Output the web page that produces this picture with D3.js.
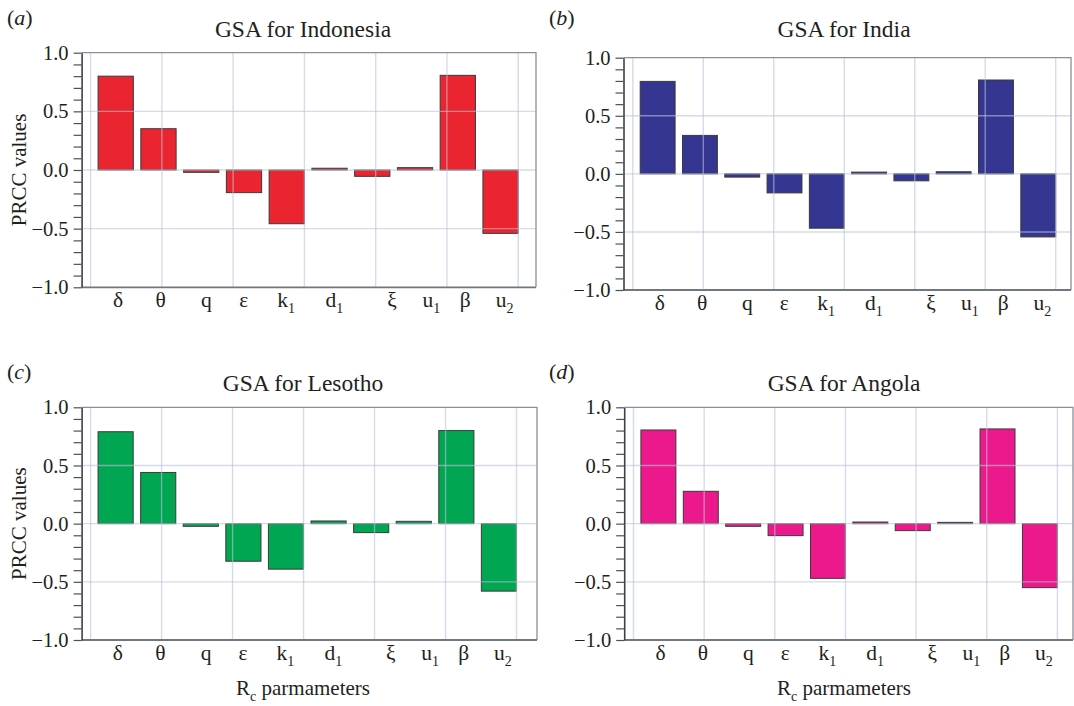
<!DOCTYPE html>
<html>
<head>
<meta charset="utf-8">
<script src="https://cdn.jsdelivr.net/npm/d3@7"></script>
<style>
  body { margin: 0; background: #fff; }
  svg text { font-family: 'Liberation Serif', 'Tinos', 'Times New Roman', 'DejaVu Serif', serif; fill: #231f20; }
</style>
</head>
<body>
<svg id="fig" width="1074" height="706"></svg>
<script>
// parameters on the x axis (base glyph + subscript)
const params = ['δ', 'θ', 'q', 'ε', 'k', 'd', 'ξ', 'u', 'β', 'u'];
const paramSubs = ['', '', '', '', '1', '1', '', '1', '', '2'];
// where each tick label sits, in bar-slot units
const labelPos = [0.64, 1.64, 2.71, 3.58, 4.49, 5.62, 7.05, 7.89, 8.76, 9.6];
const yTicks = [-1, -0.5, 0, 0.5, 1];

const countries = ['Indonesia', 'India', 'Lesotho', 'Angola'];
const tags = ['a', 'b', 'c', 'd'];

// PRCC values
const indonesia = [0.80, 0.352, -0.02, -0.193, -0.458, 0.015, -0.054, 0.02, 0.807, -0.54];
const india = [0.796, 0.331, -0.028, -0.164, -0.468, 0.015, -0.06, 0.018, 0.808, -0.543];
const lesotho = [0.79, 0.44, -0.023, -0.323, -0.391, 0.023, -0.077, 0.02, 0.80, -0.58];
const angola = [0.805, 0.278, -0.023, -0.103, -0.47, 0.014, -0.06, 0.011, 0.814, -0.55];
const series = [indonesia, india, lesotho, angola];

const barColors = ['#ea2530', '#353592', '#00a651', '#ec198c'];

// panel boxes
const layout = [
  { x0: 81.6, g0: 90.6, g1: 518.2, x1: 536, top: 52.7, bottom: 287.3, tx: 303, ty: 37, lx: 7, ly: 25, ylab: true, xlab: false },
  { x0: 623.5, g0: 632.8, g1: 1055.7, x1: 1071, top: 57.7, bottom: 290, tx: 844, ty: 37, lx: 549, ly: 25, ylab: false, xlab: false },
  { x0: 81.6, g0: 90.6, g1: 516.5, x1: 537, top: 407.3, bottom: 640, tx: 303, ty: 391, lx: 7, ly: 379, ylab: true, xlab: true },
  { x0: 624.2, g0: 633.5, g1: 1057.4, x1: 1073, top: 407.3, bottom: 640, tx: 844, ty: 391, lx: 549, ly: 379, ylab: false, xlab: true }
];

const SERIF = "'Liberation Serif', 'Tinos', 'Times New Roman', 'DejaVu Serif', serif";
const svg = d3.select('#fig').attr('font-family', SERIF);
const fmt = d3.format('.1f');

function drawPanel(i) {
  const L = layout[i];
  const values = series[i];
  const g = svg.append('g').attr('class', `panel ${tags[i]}`);

  const x = d3.scaleLinear().domain([0, params.length]).range([L.g0, L.g1]);
  const y = d3.scaleLinear().domain([-1, 1]).range([L.bottom, L.top]);

  // bars: each sits at the right of its slot
  g.selectAll('rect.bar')
    .data(values)
    .enter()
    .append('rect')
    .attr('class', 'bar')
    .attr('x', (d, j) => x(j + 0.175))
    .attr('width', x(0.825) - x(0))
    .attr('y', d => y(Math.max(d, 0)))
    .attr('height', d => Math.abs(y(d) - y(0)))
    .attr('fill', barColors[i])
    .attr('stroke', '#3a3a3a')
    .attr('stroke-width', 1);

  // grid lines, drawn over the bars
  const vgrid = d3.range(7).map(k => k * params.length / 6);
  g.selectAll('line.vg')
    .data(vgrid)
    .enter()
    .append('line')
    .attr('x1', d => x(d)).attr('x2', d => x(d))
    .attr('y1', L.top).attr('y2', L.bottom)
    .attr('stroke', 'rgba(185,195,215,0.6)')
    .attr('stroke-width', 1.4);

  g.selectAll('line.hg')
    .data([-0.5, 0, 0.5])
    .enter()
    .append('line')
    .attr('x1', L.x0).attr('x2', L.x1)
    .attr('y1', d => y(d)).attr('y2', d => y(d))
    .attr('stroke', 'rgba(185,195,215,0.6)')
    .attr('stroke-width', 1.4);

  // frame: top and right
  g.append('path')
    .attr('d', `M${L.x0},${L.top}H${L.x1}V${L.bottom}`)
    .attr('fill', 'none')
    .attr('stroke', '#8a9099')
    .attr('stroke-width', 1.3);

  // bottom axis line
  g.append('line')
    .attr('x1', L.x0).attr('x2', L.x1)
    .attr('y1', L.bottom).attr('y2', L.bottom)
    .attr('stroke', '#6f7780')
    .attr('stroke-width', 1.8);

  // y axis with minor ticks every 0.1
  const ax = g.append('g')
    .attr('transform', `translate(${L.x0},0)`)
    .call(d3.axisLeft(y)
      .tickValues(d3.range(-10, 11).map(v => v / 10))
      .tickSize(8)
      .tickSizeOuter(0)
      .tickPadding(5)
      .tickFormat(d => (yTicks.some(t => Math.abs(t - d) < 1e-9) ? fmt(d) : '')));
  ax.attr('font-family', SERIF).attr('font-size', 20.5);
  ax.select('.domain').attr('stroke', '#3d4248').attr('stroke-width', 1.6);
  ax.selectAll('.tick line').attr('stroke', '#4a5058').attr('stroke-width', 1.2);
  ax.selectAll('.tick text').attr('fill', '#231f20');

  // x tick labels
  params.forEach((p, j) => {
    const cx = x(labelPos[j]);
    const t = g.append('text')
      .attr('x', cx)
      .attr('y', L.bottom + 19.5)
      .attr('text-anchor', 'middle')
      .attr('font-size', 21.5)
      .text(p);
    if (paramSubs[j]) {
      const w = t.node().getComputedTextLength();
      g.append('text')
        .attr('x', cx + w / 2)
        .attr('y', L.bottom + 26)
        .attr('font-size', 14)
        .text(paramSubs[j]);
    }
  });

  // title
  g.append('text')
    .attr('x', L.tx)
    .attr('y', L.ty)
    .attr('text-anchor', 'middle')
    .attr('font-size', 23.5)
    .text(`GSA for ${countries[i]}`);

  // panel tag
  const tag = g.append('text')
    .attr('x', L.lx)
    .attr('y', L.ly)
    .attr('font-size', 22);
  tag.append('tspan').text('(');
  tag.append('tspan').attr('font-style', 'italic').text(tags[i]);
  tag.append('tspan').text(')');

  if (L.ylab) {
    g.append('text')
      .attr('transform', `translate(26,${(L.top + L.bottom) / 2}) rotate(-90)`)
      .attr('text-anchor', 'middle')
      .attr('font-size', 21)
      .text('PRCC values');
  }

  if (L.xlab) {
    const xl = g.append('text')
      .attr('x', L.tx)
      .attr('y', 695)
      .attr('text-anchor', 'middle')
      .attr('font-size', 21);
    xl.append('tspan').text('R');
    xl.append('tspan').attr('dy', 6).attr('font-size', 14).text('c');
    xl.append('tspan').attr('dy', -6).text(' parmameters');
  }
}

countries.forEach((c, i) => drawPanel(i));
</script>
</body>
</html>
